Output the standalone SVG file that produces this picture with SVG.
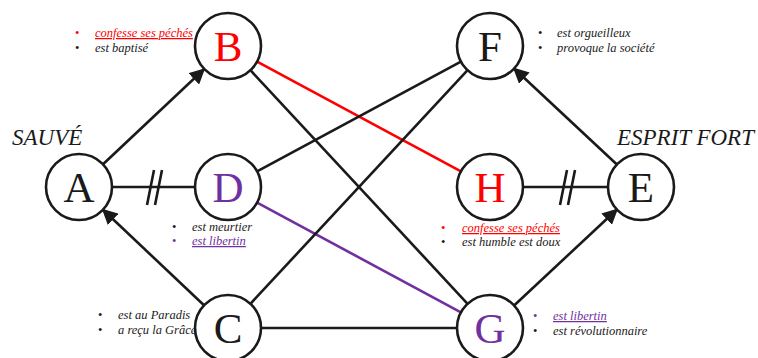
<svg xmlns="http://www.w3.org/2000/svg" width="758" height="358" viewBox="0 0 758 358">
<defs>
<style>
.node circle{fill:#fff;stroke:#1a1a1a;stroke-width:2.6}
.lbl{font-family:"Liberation Serif",serif;font-size:43px;text-anchor:middle;fill:#1a1a1a}
.edge{stroke:#1a1a1a;stroke-width:2.6;fill:none}
.note{font-family:"Liberation Serif",serif;font-style:italic;font-size:12.5px;fill:#1a1a1a}
.bul{font-style:normal}
.title{font-family:"Liberation Serif",serif;font-style:italic;font-size:23px;fill:#1a1a1a}
.red{fill:#ff0000}
.pur{fill:#7030a0}
</style>
<marker id="arr" viewBox="0 0 10 10" refX="9" refY="5" markerWidth="6" markerHeight="6" markerUnits="strokeWidth" orient="auto">
<path d="M0,0 L10,5 L0,10 z" fill="#1a1a1a"/>
</marker>
</defs>
<rect width="758" height="358" fill="#fff"/>
<g id="connectors">
<line class="edge" x1="103" y1="164.3" x2="204" y2="69.3" marker-end="url(#arr)"/>
<line class="edge" x1="204" y1="305.3" x2="103" y2="209.7" marker-end="url(#arr)"/>
<line class="edge" x1="616.9" y1="164.5" x2="514.1" y2="68.5" marker-end="url(#arr)"/>
<line class="edge" x1="514.1" y1="305.5" x2="616.9" y2="209.5" marker-end="url(#arr)"/>
<line class="edge" x1="250.4" y1="70.2" x2="467.6" y2="303.8"/>
<line class="edge" x1="257.1" y1="61.6" x2="460.9" y2="171.4" style="stroke:#ff0000"/>
<line class="edge" x1="257.1" y1="171.4" x2="460.9" y2="61.6"/>
<line class="edge" x1="257.1" y1="202.6" x2="460.9" y2="312.4" style="stroke:#7030a0"/>
<line class="edge" x1="250.4" y1="303.8" x2="467.6" y2="70.2"/>
<line class="edge" x1="261" y1="328" x2="457" y2="328"/>
<line class="edge" x1="112" y1="187" x2="195" y2="187"/>
<line class="edge" x1="147" y1="205" x2="154" y2="170"/>
<line class="edge" x1="155" y1="205" x2="162" y2="170"/>
<line class="edge" x1="523" y1="187" x2="608" y2="187"/>
<line class="edge" x1="560" y1="205" x2="567" y2="170"/>
<line class="edge" x1="568" y1="205" x2="575" y2="170"/>
</g>
<g id="node-A" class="node"><circle cx="79" cy="187" r="33"/><text class="lbl" x="79" y="202">A</text></g>
<g id="node-B" class="node"><circle cx="228" cy="46" r="33"/><text class="lbl red" x="228" y="61">B</text></g>
<g id="node-D" class="node"><circle cx="228" cy="187" r="33"/><text class="lbl pur" x="228" y="202">D</text></g>
<g id="node-C" class="node"><circle cx="228" cy="328" r="33"/><text class="lbl" x="228" y="343">C</text></g>
<g id="node-F" class="node"><circle cx="490" cy="46" r="33"/><text class="lbl" x="490" y="61">F</text></g>
<g id="node-H" class="node"><circle cx="490" cy="187" r="33"/><text class="lbl red" x="490" y="202">H</text></g>
<g id="node-G" class="node"><circle cx="490" cy="328" r="33"/><text class="lbl pur" x="490" y="343">G</text></g>
<g id="node-E" class="node"><circle cx="641" cy="187" r="33"/><text class="lbl" x="641" y="202">E</text></g>
<g id="titles">
<text class="title" x="12" y="145">SAUVÉ</text>
<text class="title" x="617" y="145">ESPRIT FORT</text>
</g>
<g id="notes">
<text class="note red bul" x="75" y="37">•</text>
<text class="note red" x="95" y="37" text-decoration="underline">confesse ses péchés</text>
<text class="note bul" x="75" y="52">•</text>
<text class="note" x="95" y="52">est baptisé</text>
<text class="note bul" x="538" y="37">•</text>
<text class="note" x="557" y="37">est orgueilleux</text>
<text class="note bul" x="538" y="52">•</text>
<text class="note" x="557" y="52">provoque la société</text>
<text class="note bul" x="172" y="231">•</text>
<text class="note" x="192" y="231">est meurtier</text>
<text class="note pur bul" x="172" y="245">•</text>
<text class="note pur" x="192" y="245" text-decoration="underline">est libertin</text>
<text class="note red bul" x="441" y="232">•</text>
<text class="note red" x="462" y="232" text-decoration="underline">confesse ses péchés</text>
<text class="note bul" x="441" y="246">•</text>
<text class="note" x="462" y="246">est humble est doux</text>
<text class="note bul" x="98" y="319">•</text>
<text class="note" x="118" y="319">est au Paradis</text>
<text class="note bul" x="98" y="334">•</text>
<text class="note" x="118" y="334">a reçu la Grâce</text>
<text class="note pur bul" x="533" y="320">•</text>
<text class="note pur" x="553" y="320" text-decoration="underline">est libertin</text>
<text class="note bul" x="533" y="335">•</text>
<text class="note" x="553" y="335">est révolutionnaire</text>
</g>
</svg>
